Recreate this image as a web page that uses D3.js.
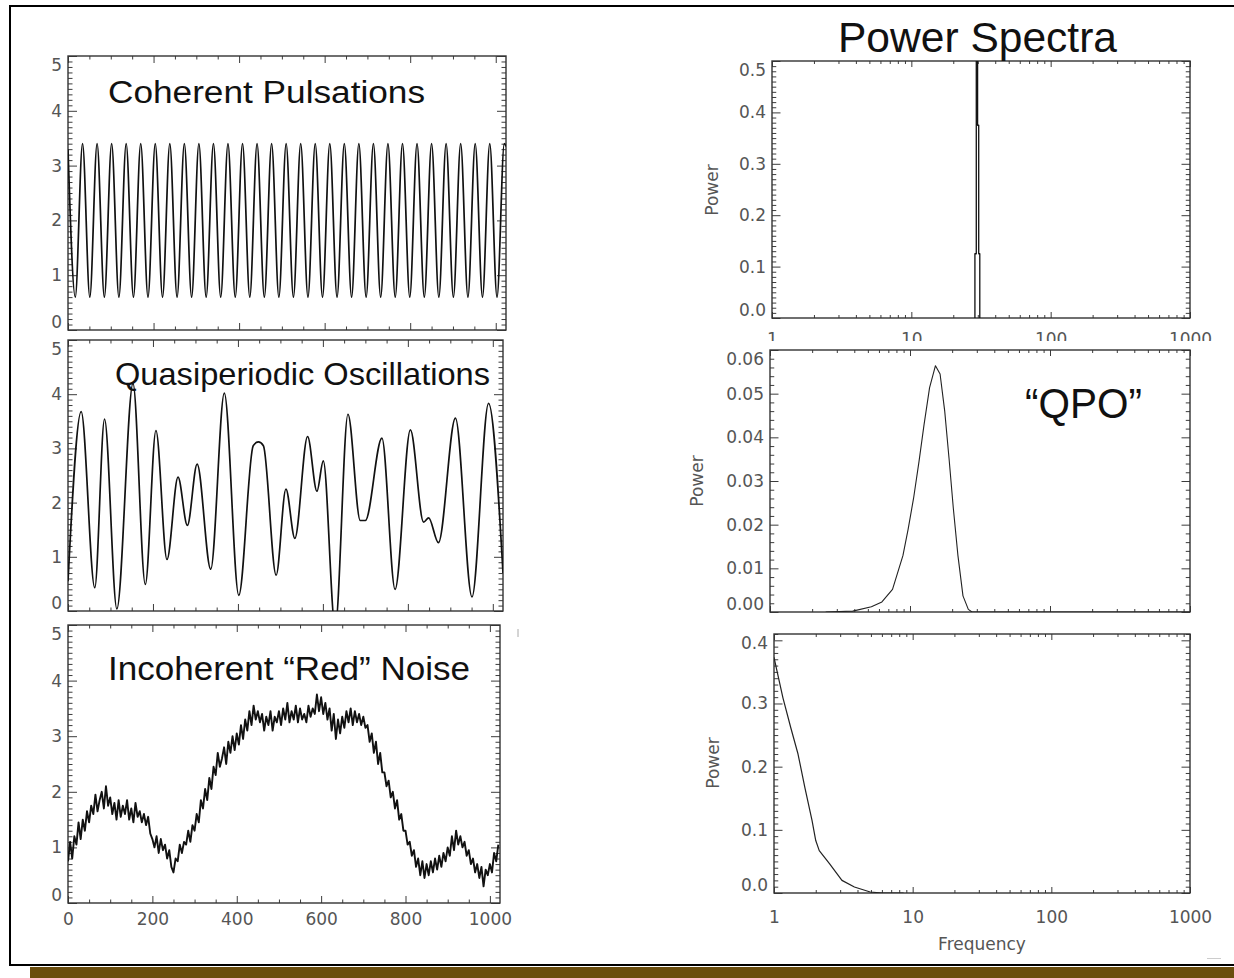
<!DOCTYPE html>
<html>
<head>
<meta charset="utf-8">
<script src="https://cdn.jsdelivr.net/npm/d3@7"></script>
<style>
  html, body { margin: 0; padding: 0; background: #fff; }
  svg { display: block; }
</style>
</head>
<body>
<svg id="fig" width="1234" height="978"></svg>
<script>
// ---------------- data ----------------
// Coherent pulsations: times of successive extrema and their count rates
const pulseTime = [0,17,34,51,68,85,102,119,136,153,170,187,204,221,238,255,272,289,306,323,
  340,357,374,391,408,425,442,459,476,493,510,527,544,561,578,595,612,629,646,663,
  680,697,714,731,748,765,782,799,816,833,850,867,884,901,918,935,952,969,986,1003,1020,1024];
const pulseRate = [3.3,0.6,3.4,0.6,3.4,0.6,3.4,0.6,3.4,0.6,3.4,0.6,3.4,0.6,3.4,0.6,3.4,0.6,3.4,0.6,
  3.4,0.6,3.4,0.6,3.4,0.6,3.4,0.6,3.4,0.6,3.4,0.6,3.4,0.6,3.4,0.6,3.4,0.6,3.4,0.6,
  3.4,0.6,3.4,0.6,3.4,0.6,3.4,0.6,3.4,0.6,3.4,0.6,3.4,0.6,3.4,0.6,3.4,0.6,3.4,0.6,3.4,3.35];

// Quasiperiodic oscillations: times of turning points and their rates
const qpoTime = [0,31,63,86,115,153,182,207,233,259,281,304,336,368,402,436,448,460,490,513,
  534,564,586,601,629,659,688,700,739,770,806,837,849,872,912,951,990,1024];
const qpoRate = [0.55,3.68,0.43,3.54,0.04,4.2,0.49,3.33,0.95,2.47,1.58,2.71,0.77,4.02,0.29,3.05,3.12,3.05,0.66,2.25,
  1.34,3.22,2.21,2.77,-0.3,3.63,1.67,1.67,3.19,0.40,3.34,1.64,1.72,1.26,3.56,0.26,3.83,0.7];

// Red noise light curve, one sample every 5 time units from 0 to 1020
const noiseStep = 5;
const noiseRate = [
  0.75,1.1,0.8,1.2,1.05,1.45,1.15,1.5,1.3,1.65,
  1.45,1.75,1.6,1.95,1.65,1.85,2.0,1.7,2.1,1.75,
  1.9,1.6,1.8,1.5,1.85,1.55,1.75,1.6,1.85,1.5,
  1.7,1.45,1.8,1.55,1.65,1.45,1.6,1.4,1.55,1.25,
  1.15,1.0,1.2,0.9,1.15,0.95,1.05,0.8,0.95,0.65,
  0.55,0.8,0.75,1.05,0.9,1.1,1.05,1.3,1.1,1.4,
  1.3,1.6,1.45,1.85,1.7,2.05,1.85,2.25,2.05,2.45,
  2.3,2.7,2.45,2.6,2.8,2.5,2.9,2.7,3.0,2.75,
  3.05,2.85,3.2,2.95,3.3,3.1,3.45,3.2,3.55,3.3,
  3.45,3.25,3.4,3.1,3.35,3.2,3.45,3.1,3.35,3.25,
  3.45,3.2,3.5,3.3,3.6,3.25,3.45,3.3,3.55,3.25,
  3.5,3.3,3.4,3.25,3.55,3.35,3.5,3.4,3.75,3.45,
  3.7,3.4,3.6,3.3,3.5,3.1,3.4,2.95,3.3,3.05,
  3.35,3.15,3.45,3.25,3.5,3.2,3.45,3.25,3.4,3.2,
  3.35,3.15,3.2,2.9,3.05,2.7,2.9,2.5,2.7,2.35,
  2.35,2.1,2.2,1.9,2.0,1.7,1.85,1.5,1.6,1.3,
  1.3,1.05,1.1,0.85,0.95,0.65,0.8,0.5,0.75,0.45,
  0.7,0.5,0.75,0.55,0.8,0.6,0.85,0.65,0.9,0.75,
  1.0,0.85,1.2,0.95,1.3,1.05,1.2,1.0,1.1,0.85,
  0.95,0.7,0.8,0.55,0.7,0.45,0.65,0.3,0.6,0.5,
  0.7,0.55,0.9,0.75,1.05
];

// Power spectra
const pulseFreq  = [28.3, 28.9, 29.6, 30.2, 30.7, 31.3];
const pulsePower = [0, 0.125, 0.53, 0.375, 0.125, 0];

const qpoFreq  = [2.5,3.9,5.3,6.3,7.5,8.9,9.7,10.6,11.6,12.6,13.8,15.2,16.4,17.7,19.0,20.4,22.0,23.9,26.1,27.7,1000];
const qpoPower = [0,0.0002,0.0012,0.0023,0.0052,0.0129,0.019,0.026,0.0345,0.0429,0.0514,0.0564,0.0545,0.046,0.0352,0.0237,0.0129,0.0037,0.0006,0,0];

const noiseFreq  = [1,1.16,1.32,1.49,1.67,1.88,2.0,2.12,2.52,3.09,3.8,4.94,6.07,8.6];
const noisePower = [0.373,0.309,0.262,0.22,0.167,0.115,0.083,0.067,0.046,0.02,0.0095,0.0016,0,0];

// Tick labels
const timeTicks  = [0, 200, 400, 600, 800, 1000];
const rateTicks  = [0, 1, 2, 3, 4, 5];
const freqTicks  = [1, 10, 100, 1000];
const pulsePowerTicks = [0, 0.1, 0.2, 0.3, 0.4, 0.5];
const qpoPowerTicks   = [0, 0.01, 0.02, 0.03, 0.04, 0.05, 0.06];
const noisePowerTicks = [0, 0.1, 0.2, 0.3, 0.4];

// ---------------- drawing ----------------
const svg = d3.select("#fig");
svg.append("rect").attr("width", 1234).attr("height", 978).attr("fill", "#fff");

const tickFont = "'DejaVu Sans', Verdana, sans-serif";
const titleFont = "'Liberation Sans', Arial, Helvetica, sans-serif";
const defs = svg.append("defs");
let clipId = 0;

function panel(p) {
  const x = (p.log ? d3.scaleLog() : d3.scaleLinear()).domain(p.xDomain).range([p.x0, p.x1]);
  const y = d3.scaleLinear().domain(p.yDomain).range([p.y1, p.y0]);
  const g = svg.append("g");

  const cid = "clip" + (clipId++);
  defs.append("clipPath").attr("id", cid).append("rect")
    .attr("x", p.x0).attr("y", p.y0).attr("width", p.x1 - p.x0).attr("height", p.y1 - p.y0);

  const style = sel => {
    sel.select(".domain").remove();
    sel.selectAll(".tick line").attr("stroke", "#3c3c3c").attr("stroke-width", 1);
    sel.attr("font-family", tickFont).attr("font-size", p.fontSize || 17);
    sel.selectAll(".tick text").attr("fill", "#555");
    return sel;
  };

  // x ticks on bottom and top
  [[d3.axisBottom, p.y1, true], [d3.axisTop, p.y0, false]].forEach(([fn, pos, bottom]) => {
    const major = fn(x).tickValues(p.xMajor).tickSize(-p.xLen).tickSizeOuter(0)
      .tickPadding(p.xPad || 10);
    if (bottom && p.xFormat) major.tickFormat(p.xFormat); else major.tickFormat("");
    // labels that run under the next panel are cut off by an untransformed clip group
    const holder = (bottom && p.xLabelClip)
      ? g.append("g").attr("clip-path", `url(#${p.xLabelClip})`) : g;
    style(holder.append("g").attr("transform", `translate(0,${pos})`).call(major));
    style(g.append("g").attr("transform", `translate(0,${pos})`)
      .call(fn(x).tickValues(p.xMinor).tickSize(-p.xLen / 2).tickSizeOuter(0).tickFormat("")));
  });

  // y ticks on left and right
  [[d3.axisLeft, p.x0, true], [d3.axisRight, p.x1, false]].forEach(([fn, pos, left]) => {
    const major = fn(y).tickValues(p.yMajor).tickSize(-p.yLen).tickSizeOuter(0).tickPadding(6);
    if (left) major.tickFormat(p.yFormat); else major.tickFormat("");
    const ax = style(g.append("g").attr("transform", `translate(${pos},0)`).call(major));
    if (left) {
      ax.selectAll(".tick text").attr("transform", d => {
        const py = y(d);
        const lo = p.y0 + 9, hi = p.y1 - 8;
        const s = py < lo ? lo - py : (py > hi ? hi - py : 0);
        return `translate(0,${s})`;
      });
    }
    style(g.append("g").attr("transform", `translate(${pos},0)`)
      .call(fn(y).tickValues(p.yMinor).tickSize(-p.yLen / 2).tickSizeOuter(0).tickFormat("")));
  });

  // plot box
  g.append("rect").attr("x", p.x0).attr("y", p.y0)
    .attr("width", p.x1 - p.x0).attr("height", p.y1 - p.y0)
    .attr("fill", "none").attr("stroke", "#333").attr("stroke-width", 1.4);

  // data line
  const line = d3.line().x(d => x(d[0])).y(d => y(d[1])).curve(p.curve || d3.curveLinear);
  g.append("path").datum(p.data).attr("d", line)
    .attr("fill", "none").attr("stroke", p.stroke || "#111")
    .attr("stroke-width", p.width || 1.5).attr("stroke-linejoin", "round")
    .attr("clip-path", `url(#${cid})`);

  return { g, x, y };
}

const zip = (a, b) => a.map((v, i) => [v, b[i]]);
const stepList = (a, b, s, skip) => d3.range(a, b + s / 2, s).filter(v => !skip.some(k => Math.abs(k - v) < s / 10));

const timeMinor = stepList(0, 1000, 50, timeTicks);
const rateMinor = stepList(0, 5, 0.1, rateTicks);
const freqMinor = [2,3,4,5,6,7,8,9,20,30,40,50,60,70,80,90,200,300,400,500,600,700,800,900];

// Left column: light curves
const leftCommon = {
  xDomain: [0, 1024], yDomain: [0, 5], xMajor: timeTicks, xMinor: timeMinor,
  yMajor: rateTicks, yMinor: rateMinor, yFormat: d3.format("d"), xLen: 7, yLen: 9
};
panel(Object.assign({}, leftCommon, {
  x0: 68, x1: 506, y0: 56, y1: 330,
  data: zip(pulseTime, pulseRate), curve: d3.curveMonotoneX, width: 1.7
}));
panel(Object.assign({}, leftCommon, {
  x0: 68, x1: 503, y0: 340, y1: 611,
  data: zip(qpoTime, qpoRate), curve: d3.curveMonotoneX, width: 1.7
}));
panel(Object.assign({}, leftCommon, {
  x0: 68, x1: 500, y0: 625, y1: 903,
  data: noiseRate.map((v, i) => [i * noiseStep, v]), width: 1.9,
  xFormat: d3.format("d"), xPad: 10
}));

// Right column: power spectra
defs.append("clipPath").attr("id", "r1labels").append("rect")
  .attr("x", 700).attr("y", 300).attr("width", 520).attr("height", 41);

const rightCommon = {
  log: true, xDomain: [1, 1000], xMajor: freqTicks, xMinor: freqMinor,
  xLen: 6, yLen: 8.5, fontSize: 17, xPad: 18, xFormat: d3.format("d")
};
panel(Object.assign({}, rightCommon, {
  x0: 772, x1: 1190, y0: 61, y1: 318, xPad: 15,
  yDomain: [0, 0.5], yMajor: pulsePowerTicks, yMinor: stepList(0, 0.5, 0.01, pulsePowerTicks),
  yFormat: d3.format(".1f"), xLabelClip: "r1labels",
  data: zip(pulseFreq, pulsePower), curve: d3.curveStep, width: 1.3
}));
panel(Object.assign({}, rightCommon, {
  x0: 770, x1: 1190, y0: 350, y1: 612, xFormat: null,
  yDomain: [0, 0.06], yMajor: qpoPowerTicks, yMinor: stepList(0, 0.06, 0.002, qpoPowerTicks),
  yFormat: d3.format(".2f"),
  data: zip(qpoFreq, qpoPower), width: 1.1, stroke: "#222"
}));
panel(Object.assign({}, rightCommon, {
  x0: 774, x1: 1190, y0: 634, y1: 893,
  yDomain: [0, 0.41], yMajor: noisePowerTicks, yMinor: stepList(0, 0.41, 0.01, noisePowerTicks),
  yFormat: d3.format(".1f"),
  data: zip(noiseFreq, noisePower), width: 1.2, stroke: "#222"
}));

// Axis titles
const axisText = (x, y, t, rot) => svg.append("text")
  .attr("transform", `translate(${x},${y})` + (rot ? " rotate(-90)" : ""))
  .attr("text-anchor", "middle").attr("font-family", tickFont).attr("font-size", 17)
  .attr("fill", "#555").text(t);
axisText(718, 190, "Power", true);
axisText(703, 481, "Power", true);
axisText(719, 763, "Power", true);
axisText(982, 950, "Frequency", false);

// Panel headings
const heading = (x, y, t, size, len) => svg.append("text")
  .attr("x", x).attr("y", y).attr("font-family", titleFont).attr("font-size", size)
  .attr("fill", "#111").attr("textLength", len).attr("lengthAdjust", "spacingAndGlyphs").text(t);
heading(108, 103, "Coherent Pulsations", 31, 317);
heading(115, 385, "Quasiperiodic Oscillations", 32, 375);
heading(108, 680, "Incoherent \u201CRed\u201D Noise", 34, 362);
heading(838, 52, "Power Spectra", 42, 279);
heading(1025, 418, "\u201CQPO\u201D", 42, 117);

// Slide frame and bottom band
svg.append("rect").attr("x", 30).attr("y", 967).attr("width", 1204).attr("height", 11).attr("fill", "#6b4e0e");
svg.append("rect").attr("x", 10).attr("y", 6).attr("width", 1240).attr("height", 959)
  .attr("fill", "none").attr("stroke", "#000").attr("stroke-width", 2);
svg.append("line").attr("x1", 518).attr("x2", 518).attr("y1", 629).attr("y2", 637)
  .attr("stroke", "#aaa").attr("stroke-width", 1);
svg.append("line").attr("x1", 1207).attr("x2", 1221).attr("y1", 958.5).attr("y2", 958.5)
  .attr("stroke", "#ccc").attr("stroke-width", 1);
</script>
</body>
</html>
